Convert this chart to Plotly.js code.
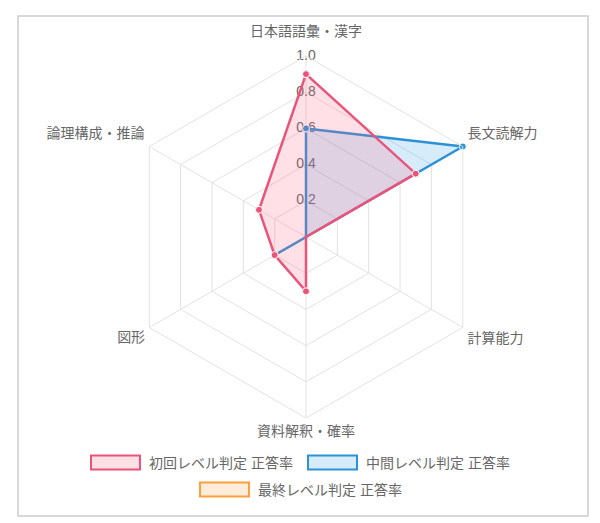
<!DOCTYPE html>
<html>
<head>
<meta charset="utf-8">
<script src="https://cdn.plot.ly/plotly-3.0.1.min.js"></script>
<style>
html,body{margin:0;padding:0;background:#fff;}
#chart{width:600px;height:523px;}
</style>
</head>
<body>
<div id="chart"></div>
<script>
// ---- data ----
const categories = ['日本語語彙・漢字', '長文読解力', '計算能力', '資料解釈・確率', '図形', '論理構成・推論'];
const seriesNames = ['初回レベル判定 正答率', '中間レベル判定 正答率', '最終レベル判定 正答率'];
const initialValues = [0.9, 0.7, 0.0, 0.3, 0.2, 0.3];
const midValues = [0.6, 1.0, 0.0, 0.0, 0.2, 0.0];
const finalValues = [null, null, null, null, null, null];
const radialTicks = [0.2, 0.4, 0.6, 0.8, 1.0];
const radialTickLabels = ['0.2', '0.4', '0.6', '0.8', '1.0'];

// ---- styles ----
const lineColors = ['rgb(233,84,120)', 'rgb(44,145,214)', 'rgb(255,159,64)'];
const fillColors = ['rgba(255,99,132,0.2)', 'rgba(54,162,235,0.2)', 'rgba(255,159,64,0.2)'];
const allValues = [initialValues, midValues, finalValues];
const W = 600, H = 523;
const FONT = 'Liberation Sans, Arial, "Noto Sans CJK JP", sans-serif';
const px = x => x / W;
const py = y => 1 - y / H;
// point labels sit on the outer ring, pushed out by an invisible marker
const labelPos = ['top center', 'top right', 'bottom right', 'bottom center', 'bottom left', 'top left'];
const labelPad = [25, 6, 6, 10, 5, 6];

function closed(arr) { return arr.concat([arr[0]]); }

const traces = [];
// radial tick labels along the top spoke (drawn beneath data)
traces.push({
  type: 'scatterpolar',
  r: radialTicks,
  theta: radialTicks.map(() => categories[0]),
  mode: 'text',
  text: radialTickLabels,
  textposition: 'middle center',
  textfont: {family: FONT, size: 14, color: '#666'},
  cliponaxis: false,
  hoverinfo: 'skip',
  showlegend: false
});
// category (point) labels
traces.push({
  type: 'scatterpolar',
  r: categories.map(() => radialTicks[radialTicks.length - 1]),
  theta: categories,
  mode: 'markers+text',
  text: categories,
  textposition: labelPos,
  marker: {size: labelPad, color: 'rgba(0,0,0,0)'},
  textfont: {family: FONT, size: 14, color: '#666'},
  cliponaxis: false,
  hoverinfo: 'skip',
  showlegend: false
});
// series drawn in reverse so the first one is on top
for (let i = allValues.length - 1; i >= 0; i--) {
  traces.push({
    type: 'scatterpolar',
    name: seriesNames[i],
    r: closed(allValues[i]),
    theta: closed(categories),
    mode: 'lines+markers',
    fill: 'toself',
    fillcolor: fillColors[i],
    line: {color: lineColors[i], width: 2.5},
    marker: {color: lineColors[i], size: 7, line: {color: '#fff', width: 1}},
    cliponaxis: false,
    showlegend: false
  });
}

// legend built from the series names
const shapes = [{
  type: 'rect', xref: 'paper', yref: 'paper',
  x0: px(18), x1: px(588), y0: py(516), y1: py(16),
  line: {color: '#cccccc', width: 1.5}, fillcolor: 'rgba(0,0,0,0)', layer: 'below'
}];
const annotations = [];
const legendPos = [[91, 462.5], [308, 462.5], [200, 489.5]];
seriesNames.forEach((name, i) => {
  const [lx, ly] = legendPos[i];
  shapes.push({
    type: 'rect', xref: 'paper', yref: 'paper',
    x0: px(lx), x1: px(lx + 49), y0: py(ly + 7), y1: py(ly - 7),
    line: {color: lineColors[i], width: 2}, fillcolor: fillColors[i]
  });
  annotations.push({
    xref: 'paper', yref: 'paper', x: px(lx + 56), y: py(ly),
    xanchor: 'left', yanchor: 'middle', showarrow: false,
    text: name, font: {family: FONT, size: 14, color: '#666'}
  });
});

const R = 181, CX = 306, CY = 237;
const layout = {
  width: W, height: H,
  margin: {l: 0, r: 0, t: 0, b: 0},
  paper_bgcolor: '#fff',
  showlegend: false,
  font: {family: FONT, color: '#666', size: 14},
  polar: {
    domain: {x: [px(CX - R), px(CX + R)], y: [py(CY + R), py(CY - R)]},
    bgcolor: 'rgba(0,0,0,0)',
    gridshape: 'linear',
    radialaxis: {
      range: [0, 1], tickvals: radialTicks, showticklabels: false,
      ticks: '', gridcolor: '#e2e2e2', gridwidth: 1, showline: false, angle: 90
    },
    angularaxis: {
      type: 'category', categoryorder: 'array', categoryarray: categories,
      direction: 'clockwise', rotation: 90,
      gridcolor: '#e2e2e2', linecolor: '#e2e2e2', showline: true,
      ticks: '', showticklabels: false
    }
  },
  shapes: shapes,
  annotations: annotations
};

Plotly.newPlot('chart', traces, layout, {displayModeBar: false, staticPlot: true});
</script>
</body>
</html>
